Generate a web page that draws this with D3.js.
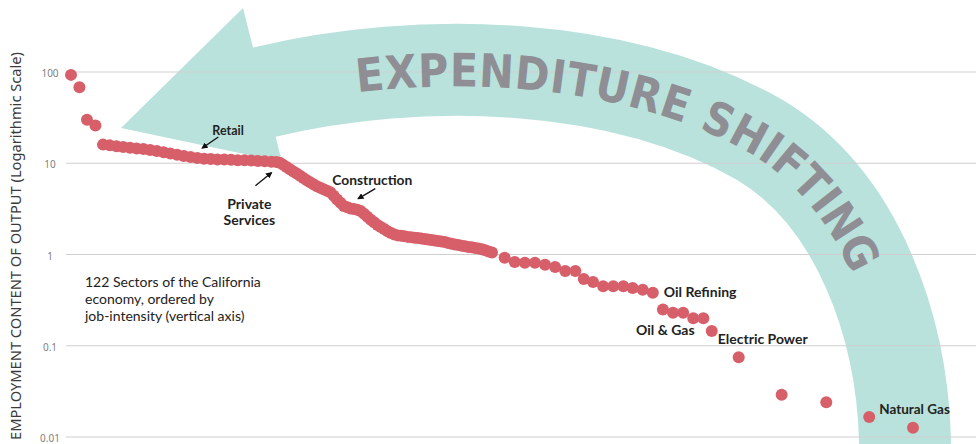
<!DOCTYPE html>
<html>
<head>
<meta charset="utf-8">
<script src="https://cdn.jsdelivr.net/npm/d3@7"></script>
<style>
  body { margin: 0; background: #fff; }
  svg { display: block; }
</style>
</head>
<body>
<div id="chart"></div>
<script>
// horizontal position of each sector along the axis (per mille), ordered by job intensity
const positions = [
  0, 10, 19, 29,
  38, 46, 54, 62, 70, 78, 86, 94, 102, 110, 118, 126, 134, 142, 150, 158, 166, 174, 182, 190, 198, 206, 214, 222, 230, 238,
  244, 248, 252, 256, 260, 264, 268, 272, 276, 280, 284, 288, 292, 296, 300, 304, 308, 312, 316, 320,
  324, 328, 332, 336, 340, 344, 348, 352, 356, 360, 364, 368, 372, 376, 380, 384, 388, 392, 396, 400,
  404, 408, 412, 416, 420, 424, 428, 432, 436, 440, 444, 448, 452, 456, 460, 464, 468, 472, 476, 480,
  484, 488, 492, 496, 500,
  515, 527, 539, 551, 563, 575, 587, 599, 609, 620, 632, 644, 656, 667, 679, 691,
  703, 715, 727, 739, 751, 761, 793, 844, 897, 948, 1000
];

// employment content of output (log scale)
const jobIntensity = [
  93, 68, 30, 26,
  16.0, 15.7, 15.4, 15.1, 14.8, 14.5, 14.3, 14.0, 13.6, 13.2, 12.8, 12.4, 12.0, 11.7, 11.4, 11.2,
  11.1, 11.0, 11.0, 10.9, 10.8, 10.8, 10.7, 10.6, 10.5, 10.4,
  10.3, 10.1, 9.6, 9.1, 8.6, 8.1, 7.7, 7.3, 6.9, 6.5, 6.2, 5.9, 5.6, 5.4, 5.2, 5.0, 4.8, 4.4, 4.0, 3.7,
  3.4, 3.3, 3.2, 3.15, 3.1, 3.0, 2.8, 2.6, 2.4, 2.25, 2.1, 2.0, 1.9, 1.8, 1.72, 1.66, 1.62, 1.60, 1.58, 1.56,
  1.55, 1.53, 1.52, 1.50, 1.48, 1.46, 1.44, 1.42, 1.41, 1.39, 1.37, 1.34, 1.31, 1.29, 1.27, 1.25, 1.23, 1.21, 1.20, 1.18,
  1.16, 1.14, 1.11, 1.08, 1.05,
  0.92, 0.83, 0.81, 0.81, 0.77, 0.73, 0.66, 0.66, 0.54, 0.50, 0.45, 0.45, 0.45, 0.43, 0.41, 0.38,
  0.25, 0.23, 0.23, 0.20, 0.20, 0.145, 0.075, 0.029, 0.024, 0.0166, 0.0126
];

const yTicks = [100, 10, 1, 0.1, 0.01];
const yTickLabels = ["100", "10", "1", "0.1", "0.01"];

// labelled sectors: index into the arrays above
const labelSectors = ["Retail", "Private Services", "Construction", "Oil Refining", "Oil & Gas", "Electric Power", "Natural Gas"];
const labelIndex = [18, 29, 54, 110, 112, 116, 120];

const noteLines = ["122 Sectors of the California", "economy, ordered by", "job-intensity (vertical axis)"];

const data = positions.map((p, i) => ({pos: p, value: jobIntensity[i]}));

const width = 976, height = 444;

const svg = d3.select("#chart")
  .append("svg")
  .attr("width", width)
  .attr("height", height);

const x = d3.scaleLinear().domain([0, 1000]).range([71, 913]);
const y = d3.scaleLog().domain([0.01, 100]).range([437, 72]);

// ---- big "expenditure shifting" arrow (decoration)
const teal = "#b9e2dc";
const bandPath = "M265,92 C420,55 620,60 760,140 C860,200 902,330 905,440";

svg.append("path")
  .attr("d", bandPath)
  .attr("fill", "none")
  .attr("stroke", teal)
  .attr("stroke-width", 92)
  .attr("stroke-linecap", "round");

svg.append("path")
  .attr("d", "M121,128 L243,8 L282,162 Z")
  .attr("fill", teal);

// ---- grid
svg.append("g")
  .selectAll("line")
  .data(yTicks)
  .join("line")
  .attr("x1", 66)
  .attr("x2", width)
  .attr("y1", d => y(d))
  .attr("y2", d => y(d))
  .attr("stroke", "#cfcfcf")
  .attr("stroke-width", 1);

svg.append("g")
  .selectAll("text")
  .data(yTicks)
  .join("text")
  .attr("x", 50)
  .attr("y", d => y(d) + 5)
  .attr("text-anchor", "middle")
  .attr("font-family", "Noto Sans, sans-serif")
  .attr("font-size", 10)
  .attr("fill", "#808080")
  .text((d, i) => yTickLabels[i]);

svg.append("text")
  .attr("transform", "translate(21,246) rotate(-90)")
  .attr("text-anchor", "middle")
  .attr("font-family", "Noto Sans, sans-serif")
  .attr("font-size", 14)
  .attr("fill", "#3a3a3a")
  .attr("textLength", 388)
  .attr("lengthAdjust", "spacingAndGlyphs")
  .text("EMPLOYMENT CONTENT OF OUTPUT (Logarithmic Scale)");

// arrow lettering
svg.append("path")
  .attr("id", "bandline")
  .attr("d", bandPath)
  .attr("fill", "none");

svg.append("text")
  .attr("font-family", "Liberation Sans Narrow, DejaVu Sans Condensed, sans-serif")
  .attr("font-weight", "bold")
  .attr("font-size", 46)
  .attr("fill", "#8e8e94")
  .attr("dy", "0.36em")
  .append("textPath")
  .attr("href", "#bandline")
  .attr("startOffset", 92)
  .attr("textLength", 585)
  .attr("lengthAdjust", "spacing")
  .text("EXPENDITURE SHIFTING");

// ---- sectors
svg.append("g")
  .selectAll("circle")
  .data(data)
  .join("circle")
  .attr("cx", d => x(d.pos))
  .attr("cy", d => y(d.value))
  .attr("r", 6)
  .attr("fill", "#d75f69");

// ---- labels
const labelOffsets = {
  "Retail": {dx: 15, dy: -23, size: 12.5, arrow: [[21, -21], [5, -10]]},
  "Private Services": {dx: -22, dy: 47, size: 14, arrow: [[-16, 24], [0, 11]]},
  "Construction": {dx: -25, dy: -25, size: 13.8, arrow: [[18, -21], [1, -11]]},
  "Oil Refining": {dx: 11, dy: 4.5, size: 14},
  "Oil & Gas": {dx: -37, dy: 22.5, size: 14},
  "Electric Power": {dx: 6, dy: 12.5, size: 14},
  "Natural Gas": {dx: 10, dy: -2.5, size: 13.5}
};

svg.append("defs").append("marker")
  .attr("id", "tip")
  .attr("viewBox", "0 0 10 10")
  .attr("refX", 8)
  .attr("refY", 5)
  .attr("markerWidth", 5)
  .attr("markerHeight", 5)
  .attr("orient", "auto")
  .append("path")
  .attr("d", "M0,0 L10,5 L0,10 Z")
  .attr("fill", "#111");

const labels = svg.append("g");
labelSectors.forEach((name, i) => {
  const d = data[labelIndex[i]];
  const px = x(d.pos), py = y(d.value);
  const o = labelOffsets[name];
  const t = labels.append("text")
    .attr("font-family", "Lato, sans-serif")
    .attr("font-weight", "bold")
    .attr("font-size", o.size)
    .attr("fill", "#222");
  if (name === "Private Services") {
    t.attr("text-anchor", "middle");
    t.append("tspan").attr("x", px + o.dx).attr("y", py + o.dy).text("Private");
    t.append("tspan").attr("x", px + o.dx).attr("y", py + o.dy + 16).text("Services");
  } else {
    t.attr("x", px + o.dx).attr("y", py + o.dy).text(name);
  }
  if (o.arrow) {
    labels.append("line")
      .attr("x1", px + o.arrow[0][0]).attr("y1", py + o.arrow[0][1])
      .attr("x2", px + o.arrow[1][0]).attr("y2", py + o.arrow[1][1])
      .attr("stroke", "#111")
      .attr("stroke-width", 1.3)
      .attr("marker-end", "url(#tip)");
  }
});

// explanatory note
svg.append("text")
  .attr("font-family", "Lato, sans-serif")
  .attr("font-size", 14)
  .attr("fill", "#222")
  .selectAll("tspan")
  .data(noteLines)
  .join("tspan")
  .attr("x", 85)
  .attr("y", (d, i) => 287 + i * 17)
  .text(d => d);
</script>
</body>
</html>
